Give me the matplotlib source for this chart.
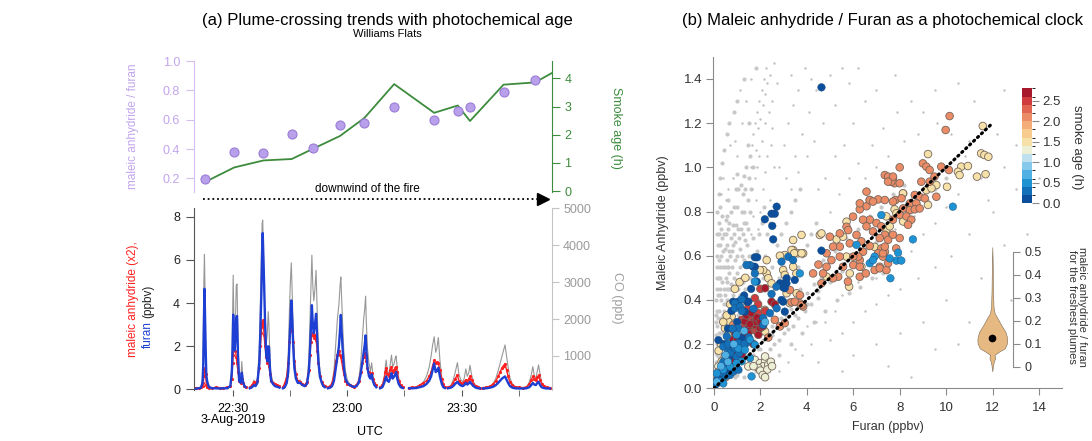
import numpy as np
import matplotlib
matplotlib.use("Agg")
import matplotlib.pyplot as plt
from matplotlib.colors import ListedColormap, BoundaryNorm
from matplotlib.lines import Line2D

plt.rcParams['font.family'] = ['Liberation Sans', 'DejaVu Sans']
nan = float('nan')

# ---------------- panel (a), top: plume crossings ----------------
crossing_min = [22.6, 30.3, 38.0, 45.4, 51.1, 58.1, 64.5, 72.3, 82.8, 89.0, 92.2, 101.0, 109.3]
ma_furan_ratio = [0.195, 0.377, 0.37, 0.50, 0.41, 0.566, 0.575, 0.684, 0.598, 0.657, 0.689, 0.786, 0.868]
age_min = [22.6, 30.3, 38.0, 45.4, 51.1, 58.1, 64.5, 72.3, 82.8, 89.0, 92.2, 101.0, 109.3, 113.65]
smoke_age_h = [0.32, 0.84, 1.09, 1.14, 1.51, 1.96, 2.60, 3.80, 2.78, 3.04, 2.49, 3.78, 3.86, 4.19]

# ---------------- panel (a), bottom: time series (minutes after 22:00 UTC) ----------------
t_min = [19.5, 20.3, 21.0, 21.6, 22.0, 22.2, 22.35, 22.5, 22.65, 22.8, 23.0, 23.3, 23.7, 24.5, 25.5, 26.5, 27.5, 28.5, 29.3, 29.7,
         29.9, 30.05, 30.25, 30.45, 30.65, 30.85, 31.05, 31.3, 31.6, 32.0, 32.3, 32.6, 33.0, 33.3, nan,
         34.4, 35.0, 35.5, 35.9, 36.4, 36.9, 37.2, 37.45, 37.65, 37.8, 37.95, 38.15, 38.4, 38.7, 39.0, 39.25, 39.45, 39.7, 40.0, 40.5,
         41.0, 41.6, 42.2, nan,
         43.1, 43.6, 44.1, 44.5, 44.8, 45.05, 45.3, 45.55, 45.8, 46.1, 46.5, 47.0, 47.6, 48.2, 48.8, 49.4, 49.9, 50.2, 50.45, 50.7,
         50.95, 51.2, 51.5, 51.8, 52.1, 52.4, 52.8, 53.3, 53.7, 54.1, nan,
         54.9, 55.5, 56.0, 56.5, 57.0, 57.4, 57.8, 58.1, 58.3, 58.5, 58.8, 59.1, 59.5, 60.0, 60.6, 61.2, 61.8, 62.4, 63.0, 63.5,
         63.9, 64.3, 64.6, 64.8, 65.0, 65.3, 65.7, 66.1, 66.4, 66.7, 67.1, 67.6, nan,
         68.6, 69.2, 69.7, 70.0, 70.2, 70.5, 70.9, 71.3, 71.6, 71.9, 72.3, 72.6, 72.8, 73.1, 73.5, 74.0, 74.6, nan,
         76.2, 77.0, 78.0, 79.0, 80.0, 80.8, 81.5, 82.0, 82.4, 82.8, 83.2, 83.5, 83.9, 84.3, 84.8, 85.2, 85.6, nan,
         86.4, 87.2, 87.8, 88.3, 88.9, 89.3, 89.8, 90.3, 90.7, 91.1, 91.5, 91.9, 92.2, 92.6, 93.1, 93.7, 94.3, 94.8, nan,
         95.6, 96.5, 97.5, 98.3, 99.0, 99.6, 100.1, 100.6, 101.0, 101.4, 101.8, 102.2, 102.7, 103.3, 104.0, 105.0, 106.0, 107.0, 107.8, 108.3,
         108.7, 109.1, 109.5, 109.8, 110.2, 110.6, 111.0, 111.6, 112.3, 113.2]
co_ppb = [120, 120, 130, 150, 400, 1600, 3000, 3750, 2800, 1500, 600, 300, 180, 140, 150, 130, 130, 140, 200, 800,
          2200, 3190, 1800, 1500, 2000, 2900, 2950, 1500, 400, 300, 850, 400, 200, 150, nan,
          130, 200, 350, 250, 400, 1200, 2500, 3800, 4600, 4680, 3900, 3000, 2000, 1300, 1600, 2200, 1790, 900, 500, 300,
          250, 200, 160, nan,
          150, 200, 450, 1000, 2200, 3000, 3523, 2700, 1800, 1000, 500, 300, 350, 250, 200, 300, 900, 2000, 3000, 3730,
          2900, 2500, 2800, 3320, 2200, 1200, 600, 300, 200, 150, nan,
          130, 150, 250, 600, 1400, 2000, 2400, 2900, 3140, 2600, 1800, 1100, 600, 350, 250, 200, 180, 200, 350, 800,
          1400, 2000, 2300, 2620, 1900, 1200, 800, 600, 817, 500, 300, 200, nan,
          150, 200, 450, 700, 891, 600, 500, 800, 1027, 700, 800, 950, 1000, 700, 400, 200, 150, nan,
          130, 140, 150, 200, 300, 450, 700, 1000, 1300, 1522, 1100, 1200, 1500, 900, 400, 200, 150, nan,
          150, 200, 350, 550, 820, 500, 350, 300, 400, 650, 450, 550, 750, 500, 300, 200, 150, 130, nan,
          130, 140, 170, 250, 400, 600, 800, 1000, 1150, 1300, 1000, 700, 400, 250, 180, 150, 140, 150, 300, 500,
          710, 450, 400, 550, 760, 500, 300, 180, 140, 130]
furan_ppbv = [0.02, 0.03, 0.05, 0.08, 0.3, 1.2, 3.0, 4.66, 3.5, 2.0, 0.6, 0.3, 0.1, 0.05, 0.05, 0.04, 0.05, 0.05, 0.15, 0.8,
              2.0, 3.46, 2.2, 1.8, 2.4, 3.3, 3.4, 1.6, 0.4, 0.3, 0.77, 0.35, 0.15, 0.1, nan,
              0.05, 0.1, 0.2, 0.15, 0.3, 1.2, 2.8, 4.5, 6.3, 7.24, 6.3, 5.0, 3.2, 1.6, 1.3, 2.0, 1.96, 0.9, 0.4, 0.25,
              0.15, 0.12, 0.08, nan,
              0.05, 0.1, 0.3, 0.8, 2.0, 3.1, 4.12, 3.2, 2.0, 1.0, 0.5, 0.3, 0.3, 0.2, 0.15, 0.25, 0.8, 1.8, 2.9, 3.9,
              3.0, 2.6, 3.0, 3.5, 2.4, 1.3, 0.6, 0.3, 0.15, 0.1, nan,
              0.05, 0.08, 0.15, 0.4, 1.0, 1.5, 2.0, 2.8, 3.45, 2.7, 1.8, 1.0, 0.5, 0.3, 0.2, 0.15, 0.1, 0.15, 0.3, 0.7,
              1.2, 1.7, 2.1, 2.5, 1.8, 1.0, 0.6, 0.5, 0.7, 0.4, 0.2, 0.1, nan,
              0.05, 0.1, 0.3, 0.5, 0.6, 0.4, 0.35, 0.55, 0.75, 0.5, 0.6, 0.7, 0.8, 0.5, 0.25, 0.1, 0.06, nan,
              0.05, 0.05, 0.06, 0.1, 0.15, 0.25, 0.4, 0.6, 0.9, 1.2, 0.8, 0.85, 1.0, 0.6, 0.25, 0.1, 0.06, nan,
              0.05, 0.08, 0.15, 0.25, 0.35, 0.25, 0.18, 0.15, 0.2, 0.3, 0.22, 0.28, 0.35, 0.25, 0.15, 0.08, 0.05, 0.05, nan,
              0.04, 0.05, 0.08, 0.12, 0.2, 0.3, 0.4, 0.5, 0.55, 0.6, 0.45, 0.3, 0.15, 0.08, 0.05, 0.04, 0.04, 0.05, 0.1, 0.2,
              0.3, 0.22, 0.2, 0.28, 0.35, 0.2, 0.1, 0.06, 0.04, 0.04]
ma_x2_ppbv = [0.05, 0.08, 0.06, 0.1, 0.15, 0.3, 0.6, 0.9, 1.0, 0.7, 0.2, 0.1, 0.08, 0.06, 0.1, 0.08, 0.07, 0.1, 0.15, 0.5,
              1.2, 1.6, 2.0, 2.3, 1.8, 1.5, 1.2, 0.8, 0.4, 0.3, 0.5, 0.3, 0.15, 0.1, nan,
              0.1, 0.2, 0.35, 0.3, 0.4, 1.0, 2.0, 2.6, 3.1, 2.9, 3.2, 2.5, 2.0, 1.5, 1.2, 1.6, 1.1, 0.7, 0.4, 0.3,
              0.25, 0.2, 0.15, nan,
              0.1, 0.3, 0.6, 1.2, 2.2, 2.8, 3.0, 2.7, 2.2, 1.3, 0.7, 0.4, 0.35, 0.25, 0.2, 0.35, 0.9, 1.6, 2.2, 2.5,
              2.6, 2.4, 2.5, 2.3, 1.8, 1.2, 0.6, 0.35, 0.2, 0.15, nan,
              0.1, 0.15, 0.3, 0.7, 1.3, 1.6, 1.8, 1.6, 1.5, 1.3, 1.0, 0.7, 0.4, 0.25, 0.2, 0.15, 0.12, 0.2, 0.4, 0.8,
              1.2, 1.5, 1.7, 1.6, 1.3, 1.0, 0.8, 0.7, 0.75, 0.5, 0.3, 0.2, nan,
              0.1, 0.2, 0.5, 0.8, 1.0, 0.7, 0.6, 0.9, 1.05, 0.8, 0.9, 1.0, 1.05, 0.8, 0.4, 0.2, 0.1, nan,
              0.08, 0.1, 0.1, 0.2, 0.3, 0.4, 0.6, 0.8, 1.1, 1.34, 1.2, 1.25, 1.2, 0.9, 0.5, 0.25, 0.12, nan,
              0.1, 0.15, 0.3, 0.5, 0.65, 0.4, 0.3, 0.25, 0.35, 0.45, 0.35, 0.5, 0.6, 0.45, 0.25, 0.15, 0.1, 0.08, nan,
              0.08, 0.1, 0.15, 0.25, 0.4, 0.6, 0.8, 1.0, 1.1, 1.19, 0.9, 0.6, 0.35, 0.2, 0.12, 0.1, 0.08, 0.1, 0.25, 0.45,
              0.6, 0.5, 0.45, 0.55, 0.65, 0.45, 0.25, 0.15, 0.1, 0.08]
time_ticks = [30, 60, 90]
time_tick_labels = ['22:30\n3-Aug-2019', '23:00', '23:30']
time_minor_ticks = [45, 75, 105]

# ---------------- panel (b): all data (gray) ----------------
gray_core = [(0.05,0.02),(0.1,0.05),(0.1,0.12),(0.12,0.2),(0.15,0.28),(0.15,0.35),(0.18,0.42),(0.2,0.5),(0.22,0.58),(0.25,0.65),
             (0.3,0.72),(0.35,0.78),(0.2,0.1),(0.25,0.18),(0.28,0.25),(0.3,0.32),(0.32,0.4),(0.35,0.48),(0.38,0.55),(0.4,0.62),
             (0.45,0.7),(0.5,0.76),(0.3,0.05),(0.35,0.12),(0.4,0.2),(0.42,0.28),(0.45,0.35),(0.48,0.42),(0.5,0.5),(0.55,0.58),
             (0.58,0.65),(0.6,0.72),(0.45,0.08),(0.5,0.15),(0.55,0.22),(0.58,0.3),(0.6,0.38),(0.62,0.45),(0.65,0.52),(0.7,0.6),
             (0.72,0.68),(0.75,0.8),(0.08,0.3),(0.1,0.4),(0.12,0.5),(0.15,0.6),(0.2,0.7),(0.25,0.45),(0.28,0.55),(0.22,0.35),
             (0.15,0.15),(0.2,0.25),(0.35,0.2),(0.38,0.3),(0.42,0.38),(0.52,0.32),(0.55,0.4),(0.58,0.48),(0.62,0.55),(0.68,0.4)]
gray_core2 = [(0.05,0.08),(0.07,0.16),(0.08,0.24),(0.1,0.33),(0.12,0.45),(0.14,0.55),(0.17,0.65),(0.2,0.75),(0.25,0.82),(0.3,0.6),
              (0.33,0.68),(0.27,0.5),(0.24,0.42),(0.18,0.32),(0.16,0.22),(0.23,0.14),(0.26,0.08),(0.33,0.15),(0.37,0.25),(0.4,0.33),
              (0.43,0.45),(0.46,0.55),(0.49,0.63),(0.52,0.7),(0.56,0.78),(0.62,0.85),(0.66,0.75),(0.64,0.62),(0.6,0.55),(0.57,0.45),
              (0.53,0.38),(0.5,0.27),(0.47,0.18),(0.42,0.1),(0.38,0.04),(0.55,0.05),(0.6,0.12),(0.63,0.2),(0.66,0.3),(0.7,0.36),
              (0.73,0.47),(0.76,0.55),(0.8,0.65),(0.84,0.74),(0.88,0.82),(0.93,0.9),(0.98,0.97),(1.02,0.72),(0.98,0.52),(0.93,0.4),
              (0.88,0.3),(0.83,0.22),(0.78,0.15),(0.72,0.08),(0.9,0.05),(0.95,0.15),(1.0,0.25),(1.05,0.33),(1.1,0.42),(1.15,0.5),
              (1.2,0.6),(1.25,0.7),(1.3,0.8),(1.35,0.9),(1.4,1.0),(1.45,1.1),(1.5,1.2),(1.55,0.8),(1.6,0.9),(1.7,1.0),
              (1.38,0.55),(1.42,0.65),(1.48,0.72),(1.55,0.5),(1.6,0.6),(1.7,0.68),(1.1,0.08),(1.15,0.15),(1.2,0.22),(1.25,0.3),
              (1.3,0.38),(1.35,0.45),(1.4,0.15),(1.45,0.25),(1.5,0.32),(1.55,0.4),(1.65,0.45),(1.75,0.55),(1.85,0.62),(1.95,0.7),
              (2.05,0.75),(2.15,0.82),(1.8,0.3),(1.9,0.4),(2.0,0.45),(2.1,0.5),(2.2,0.6),(2.3,0.7),(2.4,0.75),(0.12,0.7),
              (0.15,0.8),(0.2,0.88),(0.28,0.95),(0.35,1.02),(0.45,1.08),(0.55,1.15),(0.65,1.2),(0.85,1.25),(1.0,1.3),(1.3,1.4),
              (1.8,1.45)]
gray_mid = [(0.6,0.05),(0.65,0.12),(0.7,0.2),(0.75,0.28),(0.8,0.35),(0.82,0.42),(0.85,0.5),(0.9,0.58),(0.92,0.66),(0.95,0.74),
            (1.0,0.82),(1.05,0.9),(0.8,0.08),(0.85,0.15),(0.9,0.22),(0.95,0.3),(1.0,0.38),(1.05,0.45),(1.1,0.55),(1.12,0.63),
            (1.15,0.72),(1.2,0.8),(1.25,0.88),(1.3,0.96),(1.0,0.1),(1.05,0.18),(1.1,0.25),(1.15,0.32),(1.2,0.4),(1.25,0.48),
            (1.3,0.58),(1.35,0.67),(1.4,0.75),(1.45,0.85),(1.5,0.95),(1.55,1.05),(1.2,0.12),(1.3,0.2),(1.35,0.3),(1.4,0.4),
            (1.45,0.5),(1.5,0.6),(0.78,0.62),(0.88,0.7),(0.98,0.6),(1.08,0.68),(1.18,0.92),(1.28,0.75),(0.7,0.45),(0.9,0.45)]
gray_streak = [(1.6,1.0),(1.65,1.1),(1.7,1.15),(1.75,1.2),(1.8,1.08),(1.85,1.25),(1.9,1.18),(1.95,1.3),(2.0,1.22),(2.05,1.35),
               (2.1,1.28),(2.15,1.4),(2.2,1.33),(2.25,1.45),(2.3,1.38),(2.4,1.42),(2.5,1.3),(2.6,1.47),(1.65,0.9),(1.75,0.95),
               (1.85,1.0),(1.95,1.05),(2.05,1.12),(2.2,1.2),(2.35,1.25),(2.5,1.18),(1.6,0.7),(1.7,0.78),(1.8,0.85),(1.9,0.72),
               (2.0,0.8),(2.1,0.9),(2.2,0.98),(2.3,1.05),(2.45,1.1),(1.0,1.05),(0.8,0.95),(0.6,0.9),(0.5,0.85),(0.9,1.12),
               (1.2,1.2),(1.4,1.3),(0.7,1.1),(0.4,0.95),(0.3,0.88),(1.1,1.35),(1.6,1.4),(2.7,1.38),(2.4,0.85),(2.6,1.0)]
gray_band = [(1.5,0.1),(1.7,0.15),(1.9,0.18),(2.1,0.22),(2.3,0.25),(2.5,0.28),(2.7,0.3),(2.9,0.32),(3.1,0.33),(3.3,0.36),
             (3.5,0.38),(3.8,0.42),(4.0,0.43),(4.3,0.47),(4.6,0.5),(1.6,0.05),(1.8,0.08),(2.0,0.12),(2.2,0.14),(2.4,0.18),
             (2.6,0.2),(2.8,0.22),(3.0,0.25),(3.2,0.27),(3.4,0.28),(3.6,0.32),(3.9,0.35),(4.2,0.38),(4.5,0.41),(2.0,0.3),
             (2.2,0.35),(2.4,0.4),(2.6,0.45),(2.8,0.5),(3.0,0.55),(3.2,0.6),(2.5,0.55),(2.7,0.65),(2.9,0.7),(3.1,0.75),
             (3.3,0.8),(3.5,0.85),(3.7,0.9),(3.4,0.5),(3.6,0.55),(3.8,0.6),(4.0,0.65),(4.2,0.7),(4.4,0.75),(1.3,0.05)]
gray_line = [(1.0,0.06),(1.5,0.13),(2.0,0.18),(2.5,0.24),(3.0,0.3),(3.5,0.33),(4.0,0.38),(4.5,0.44),(5.0,0.48),(5.5,0.53),
             (6.0,0.57),(6.5,0.63),(7.0,0.66),(7.5,0.7),(8.0,0.76),(8.5,0.8),(9.0,0.86),(9.5,0.9),(10.0,0.95),(1.2,0.16),
             (1.7,0.22),(2.2,0.28),(2.7,0.36),(3.2,0.4),(3.7,0.45),(4.2,0.52),(4.7,0.58),(5.2,0.62),(5.7,0.68),(6.2,0.72),
             (6.7,0.78),(7.2,0.82),(7.7,0.88),(8.2,0.92),(2.3,0.1),(2.8,0.15),(3.3,0.2),(3.8,0.25),(4.3,0.3),(4.8,0.35),
             (5.3,0.4),(5.8,0.43),(6.3,0.46),(6.8,0.5),(7.3,0.52),(7.8,0.58)]
gray_cloud = [(2.8,1.0),(3.0,1.1),(3.2,1.2),(3.4,1.28),(3.6,1.35),(3.9,1.45),(3.1,0.95),(3.5,1.05),(3.8,1.15),(4.1,1.25),
              (4.4,1.35),(5.0,1.42),(3.3,0.9),(3.6,0.98),(4.0,1.05),(4.3,1.12),(4.7,1.2),(5.2,1.28),(5.8,1.38),(6.2,1.45),
              (4.5,0.9),(4.8,0.95),(5.2,1.05),(5.6,1.1),(6.0,1.2),(6.5,1.3),(7.0,1.35),(5.0,0.8),(5.4,0.88),(5.8,0.95),
              (6.2,1.02),(6.8,1.1),(7.3,1.18),(7.9,1.25),(8.5,1.3),(9.0,1.25),(9.5,1.35),(10.5,1.38),(11.2,1.3),(12.5,1.35),
              (6.5,0.95),(7.0,1.0),(7.5,1.05),(8.2,1.12),(8.8,1.15),(9.6,1.2),(10.2,1.15),(11.0,1.12),(12.2,1.15),(13.0,1.1),
              (13.5,1.22),(5.5,1.45),(7.8,1.42),(4.2,1.4),(3.3,1.42)]
gray_below = [(4.2,0.2),(4.8,0.3),(5.2,0.35),(5.5,0.42),(5.8,0.45),(6.2,0.48),(6.5,0.52),(7.0,0.5),(7.5,0.55),(8.0,0.6),
              (8.5,0.62),(9.0,0.7),(9.5,0.75),(10.0,0.82),(10.5,0.88),(5.0,0.22),(5.5,0.25),(6.0,0.3),(6.5,0.35),(7.0,0.38),
              (7.5,0.42),(8.0,0.45),(8.8,0.5),(9.5,0.55),(10.2,0.6),(11.0,0.7),(12.0,0.8),(6.0,0.15),(7.0,0.2),(8.0,0.25),
              (9.0,0.3),(10.0,0.4),(11.5,0.5),(12.5,0.65),(13.0,0.9),(3.8,0.15),(4.5,0.12),(5.5,0.08),(7.5,0.1),(9.5,0.18),
              (11.0,0.3),(13.5,0.7),(12.0,0.25),(14.0,0.95),(4.0,0.28),(4.4,0.3),(3.2,0.12),(2.8,0.08),(3.5,0.18),(10.5,0.2),
              (8.5,0.05),(12.8,0.4),(5.6,0.6),(6.8,0.65),(7.8,0.72),(8.6,0.78),(9.2,0.85),(11.5,0.95),(12.5,1.0),(10.8,1.05),
              (11.8,0.85)]

# ---------------- panel (b): plume-crossing points by smoke age ----------------
age_darkblue = 0.1
pts_darkblue = [(4.63,1.362),(2.70,0.822),(2.48,0.79),(2.62,0.79),(2.19,0.765),(2.51,0.735),(2.55,0.674),(4.63,0.623),
                (1.76,0.593),(1.86,0.593),(1.76,0.55),(1.84,0.483),(3.13,0.498),(3.01,0.475),(2.98,0.457),(2.98,0.392),
                (1.05,0.392),(1.43,0.392),(3.05,0.347),(3.48,0.49),(3.12,0.475),(2.84,0.475),(3.05,0.453),(0.83,0.392),
                (1.48,0.392),(2.91,0.40),(1.33,0.347),(1.19,0.227),(0.19,0.218),(0.76,0.197),(0.55,0.075),(0.04,0.022),
                (0.02,0.01),(1.69,0.55),(0.15,0.04),(0.35,0.1),(0.65,0.14),(1.0,0.3),(0.6,0.27),(0.75,0.35),(1.3,0.42),
                (1.6,0.45),(0.45,0.2)]
age_blue = 0.3
pts_blue = [(1.55,0.558),(1.19,0.403),(0.9,0.385),(0.90,0.362),(1.12,0.37),(2.48,0.427),(2.70,0.362),(2.91,0.573),
            (3.2,0.595),(3.41,0.58),(2.69,0.46),(1.40,0.558),(1.76,0.52),(2.12,0.318),(2.41,0.34),(2.12,0.287),
            (1.05,0.272),(0.55,0.235),(0.4,0.189),(1.05,0.205),(1.40,0.205),(0.62,0.167),(0.97,0.144),(0.19,0.045),
            (0.33,0.06),(0.47,0.053),(0.69,0.06),(0.83,0.075),(1.05,0.084),(0.1,0.02),(0.2,0.04),(0.3,0.03),(0.5,0.1),
            (0.7,0.16),(0.9,0.18),(1.1,0.16),(1.3,0.2),(0.6,0.2),(0.8,0.27),(0.4,0.12),(0.25,0.07),(1.5,0.23),
            (1.7,0.36),(1.2,0.35)]
age_midblue = 0.5
pts_midblue = [(10.29,0.822),(8.57,0.674),(7.6,0.498),(7.86,0.578),(8.07,0.578),(7.57,0.588),(7.93,0.614),(6.71,0.566),
               (6.92,0.596),(6.85,0.58),(7.21,0.784),(6.14,0.649),(1.76,0.483),(0.97,0.242),(1.55,0.22),(1.76,0.197),
               (1.05,0.18),(1.33,0.174),(1.19,0.122),(0.69,0.099),(0.97,0.114),(1.55,0.137),(0.4,0.084),(0.26,0.03),
               (0.4,0.022),(0.12,0.068),(1.62,0.054),(3.7,0.52)]
age_lightblue = 0.7
pts_lightblue = [(0.12,0.03),(0.3,0.1),(0.6,0.12),(0.85,0.2),(1.3,0.26),(0.5,0.15),(2.2,0.3)]
age_paleyellow = 1.3
pts_paleyellow = [(1.48,0.099),(1.76,0.129),(1.98,0.114),(2.2,0.122),(2.12,0.099),(2.34,0.107),(1.91,0.092),(2.2,0.144),
                  (2.0,0.08),(2.3,0.085),(2.45,0.12),(2.1,0.06),(1.7,0.1),(0.19,0.099),(2.5,0.1),(2.2,0.05)]
age_tan = 1.5
pts_tan = [(2.27,0.58),(3.41,0.55),(2.98,0.535),(3.05,0.513),(3.55,0.52),(11.58,1.187),(11.51,1.063),(11.65,1.056),
           (11.82,1.048),(9.22,1.06),(10.65,1.003),(10.94,1.006),(10.51,0.98),(10.58,0.965),(11.33,0.958),(11.7,0.969),
           (10.04,0.912),(9.58,0.92),(9.15,0.897),(9.37,0.905),(8.15,0.882),(9.22,0.83),(7.78,0.81),(8.15,0.755),
           (7.43,0.778),(7.43,0.718),(7.57,0.733),(6.92,0.64),(6.35,0.55),(5.28,0.674),(5.71,0.596),(4.85,0.505),
           (5.82,0.46),(5.85,0.52),(5.56,0.686),(5.71,0.754),(8.14,0.882),(7.86,0.792),(3.77,0.694),(3.41,0.671),
           (3.41,0.626),(3.84,0.611),(3.63,0.611),(4.56,0.694),(3.56,0.43),(3.13,0.43),(4.63,0.701),(3.34,0.626),
           (3.46,0.611),(3.77,0.611),(3.05,0.603),(2.84,0.6),(2.27,0.52),(2.12,0.535),(1.98,0.535),(2.34,0.498),
           (2.48,0.475),(3.27,0.385),(2.19,0.355),(0.76,0.325),(0.62,0.302),(0.47,0.272),(0.62,0.242),(0.47,0.144),
           (0.33,0.122),(2.2,0.257),(0.19,0.075),(0.3,0.2),(0.4,0.3),(0.55,0.33),(0.7,0.38),(1.1,0.48),(0.9,0.45),
           (0.2,0.17),(1.35,0.5),(0.5,0.05)]
age_orange = 2.05
pts_orange = [(9.98,1.169),(10.15,1.232),(8.0,1.0),(9.0,1.018),(9.15,1.003),(9.29,0.988),(9.79,1.003),(10.12,0.988),
              (7.36,0.965),(7.5,0.958),(7.71,0.95),(7.78,0.928),(8.0,0.928),(7.64,0.935),(8.93,0.935),(9.29,0.935),
              (9.5,0.958),(8.65,0.875),(8.86,0.867),(9.08,0.86),(7.82,0.852),(8.08,0.86),(8.44,0.837),(8.72,0.837),
              (9.58,0.867),(6.71,0.852),(7.07,0.855),(7.36,0.852),(6.57,0.824),(6.28,0.81),(8.15,0.814),(8.44,0.807),
              (8.65,0.81),(8.86,0.814),(8.0,0.785),(8.29,0.778),(8.5,0.763),(8.36,0.74),(7.71,0.763),(6.71,0.763),
              (7.0,0.748),(7.21,0.733),(6.42,0.763),(6.57,0.733),(6.85,0.71),(7.36,0.695),(7.5,0.672),(7.14,0.68),
              (7.71,0.695),(8.0,0.68),(6.35,0.665),(6.71,0.644),(7.21,0.633),(7.36,0.618),(7.07,0.611),(7.85,0.633),
              (6.28,0.58),(6.42,0.618),(7.14,0.55),(7.28,0.596),(3.70,0.385),(3.84,0.37),(3.34,0.39),(3.27,0.445),
              (4.27,0.52),(4.63,0.475),(4.70,0.52),(4.85,0.55),(5.06,0.58),(4.99,0.686),(5.42,0.641),(5.13,0.641),
              (4.85,0.611),(5.42,0.596),(5.56,0.55),(5.35,0.505),(5.13,0.498),(5.77,0.483),(6.0,0.558),(6.28,0.55),
              (6.28,0.505),(6.54,0.52),(6.92,0.535),(7.14,0.543),(7.43,0.535),(7.5,0.566),(7.28,0.611),(7.36,0.641),
              (6.21,0.596),(6.0,0.596),(5.42,0.701),(5.71,0.731),(5.85,0.656),(6.14,0.694),(5.99,0.777),(6.28,0.837),
              (6.57,0.89),(6.71,0.852),(6.85,0.845),(7.71,0.958),(7.5,0.935),(7.71,0.845),(5.78,0.716),(3.48,0.392),
              (3.7,0.422),(3.77,0.377),(2.62,0.31),(2.84,0.28),(3.05,0.295),(2.34,0.23),(0.83,0.287),(0.83,0.265),
              (4.5,0.56)]
age_red = 2.5
pts_red = [(1.76,0.408),(1.62,0.31),(1.91,0.34),(1.62,0.265),(1.84,0.257),(1.19,0.31),(1.33,0.287),(2.0,0.45),
           (2.2,0.35),(1.9,0.38),(1.2,0.2),(1.45,0.36)]
age_darkred = 2.7
pts_darkred = [(2.2,0.453),(2.48,0.392),(2.62,0.38),(1.76,0.287),(1.98,0.272),(1.48,0.25),(1.91,0.242),(0.83,0.22),
               (0.83,0.159),(1.19,0.151),(0.69,0.129),(1.33,0.302),(1.5,0.28),(1.7,0.3),(2.1,0.28),(1.0,0.18),(0.9,0.12),
               (1.4,0.33),(1.6,0.34),(1.8,0.3),(1.55,0.29),(1.85,0.32),(2.0,0.3),(1.3,0.24),(0.9,0.25),(1.0,0.22),
               (1.7,0.2),(1.1,0.2)]

fit_furan = [0.0, 12.0]
fit_ma = [0.0, 1.2]

age_bounds = [0.0, 0.2, 0.4, 0.6, 0.8, 1.0, 1.2, 1.4, 1.6, 1.8, 2.0, 2.2, 2.4, 2.6, 2.8]
age_colors = ['#0b4f9c', '#1470b8', '#1f92d2', '#4fb0e3', '#86c9ea', '#bfe0ee', '#eef0d6',
              '#f6e2a8', '#f8cc8e', '#f4ac78', '#ec8c66', '#e06652', '#d03c3e', '#a8182c']
cbar_ticks = [0.0, 0.5, 1.0, 1.5, 2.0, 2.5]

# violin: MA/furan ratio for the freshest plumes (relative density profile)
violin_ratio = [0.52, 0.47, 0.41, 0.333, 0.26, 0.232, 0.203, 0.181, 0.167, 0.152, 0.130, 0.115, 0.101,
                0.080, 0.065, 0.051, 0.043, 0.036, 0.022, 0.005, -0.02]
violin_density = [0.0, 0.02, 0.035, 0.05, 0.08, 0.16, 0.42, 0.6, 0.74, 0.88, 0.98, 1.0, 0.98,
                  0.84, 0.44, 0.14, 0.18, 0.19, 0.1, 0.05, 0.0]
violin_median = 0.124
violin_ticks = [0, 0.1, 0.2, 0.3, 0.4, 0.5]
violin_tick_labels = ['0', '0.1', '0.2', '0.3', '0.4', '0.5']

# ======================= drawing =======================
W, H = 1092, 441
fig = plt.figure(figsize=(W / 100, H / 100), dpi=100)

def box(x0, y0, x1, y1):
    return [x0 / W, 1 - y1 / H, (x1 - x0) / W, (y1 - y0) / H]

PURPLE = '#c2a5ee'
GREEN = '#3d8b3d'

# ---- (a) top ----
ax_top = fig.add_axes(box(194, 61, 552, 191.7))
ax_age = ax_top.twinx()
ax_top.set_zorder(ax_age.get_zorder() + 1)
ax_top.patch.set_visible(False)
ax_age.plot(age_min, smoke_age_h, color=GREEN, lw=1.3)
ax_top.plot(crossing_min, ma_furan_ratio, 'o', ms=6.5, mfc='#b9a0ea', mec='#9a7cd6', mew=0.8)
ax_top.set_xlim(19.76, 113.73)
ax_top.set_ylim(0.109, 1.0)
ax_age.set_ylim(-0.02, 4.62)
for s in ['top', 'bottom', 'right']:
    ax_top.spines[s].set_visible(False)
for s in ['top', 'bottom', 'left']:
    ax_age.spines[s].set_visible(False)
ax_top.spines['left'].set_color('#d4bef2')
ax_age.spines['right'].set_color(GREEN)
ax_top.tick_params(axis='x', bottom=False, labelbottom=False)
ax_top.set_yticks([0.2, 0.4, 0.6, 0.8, 1.0])
ax_top.tick_params(axis='y', colors='#d4bef2', labelcolor=PURPLE, length=6, pad=4, labelsize=9)
ax_age.set_yticks([0, 1, 2, 3, 4])
ax_age.tick_params(axis='y', colors=GREEN, labelcolor=GREEN, length=6, pad=3, labelsize=9)
fig.text(133 / W, 1 - 126 / H, 'maleic anhydride / furan', rotation=90, ha='center', va='center',
         color=PURPLE, fontsize=8.5)
fig.text(616 / W, 1 - 128 / H, 'Smoke age (h)', rotation=270, ha='center', va='center',
         color=GREEN, fontsize=9)

# ---- (a) bottom ----
ax_bot = fig.add_axes(box(194, 208.3, 552, 390))
ax_co = ax_bot.twinx()
ax_bot.set_zorder(ax_co.get_zorder() + 1)
ax_bot.patch.set_visible(False)
ax_co.plot(t_min, co_ppb, color='#8c8c8c', lw=0.8, alpha=0.9)
ax_bot.plot(t_min, ma_x2_ppbv, color='#ff2020', lw=1.0, marker='o', ms=2.3, mec='none')
ax_bot.plot(t_min, furan_ppbv, color='#1d3fd4', lw=1.7)
ax_bot.set_xlim(19.76, 113.73)
ax_bot.set_ylim(-0.03, 8.39)
ax_co.set_ylim(79, 5000)
for s in ['top', 'bottom', 'right']:
    ax_bot.spines[s].set_visible(False)
for s in ['top', 'bottom', 'left']:
    ax_co.spines[s].set_visible(False)
ax_bot.spines['left'].set_color('#555555')
ax_co.spines['right'].set_color('#c4c4c4')
ax_bot.set_yticks([0, 2, 4, 6, 8])
ax_bot.tick_params(axis='y', colors='#555555', labelcolor='#222222', length=6, pad=4, labelsize=9)
ax_co.set_yticks([1000, 2000, 3000, 4000, 5000])
ax_co.tick_params(axis='y', colors='#c4c4c4', labelcolor='#9a9a9a', length=5, pad=3, labelsize=9)
ax_bot.set_xticks(time_ticks, time_tick_labels)
ax_bot.set_xticks(time_minor_ticks, minor=True)
ax_bot.tick_params(axis='x', which='both', length=4, color='#555555', pad=5, labelsize=9)
for lab in ax_bot.get_xticklabels():
    lab.set_linespacing(1.0)
fig.text(370 / W, 1 - 432 / H, 'UTC', ha='center', va='center', fontsize=9)
fig.text(133 / W, 1 - 299 / H, 'maleic anhydride (x2),', rotation=90, ha='center', va='center',
         color='#ff2020', fontsize=8.5)
fig.text(148 / W, 1 - 348 / H, 'furan', rotation=90, ha='center', va='bottom',
         color='#1d3fd4', fontsize=8.5)
fig.text(148 / W, 1 - 318 / H, '(ppbv)', rotation=90, ha='center', va='bottom',
         color='#222222', fontsize=8.5)
fig.text(617 / W, 1 - 298 / H, 'CO (ppb)', rotation=270, ha='center', va='center',
         color='#a0a0a0', fontsize=9)

# arrow between panels
ya = 1 - 199 / H
fig.add_artist(Line2D([203 / W, 540 / W], [ya, ya], transform=fig.transFigure, color='k',
                      lw=1.3, ls=(0, (1, 1.6))))
fig.add_artist(Line2D([543 / W], [ya], transform=fig.transFigure, color='k', marker='>',
                      ms=8, ls='none'))
fig.text(367 / W, 1 - 189 / H, 'downwind of the fire', ha='center', va='center', fontsize=8.5)

# titles
fig.text(387 / W, 1 - 20 / H, '(a) Plume-crossing trends with photochemical age', ha='center',
         va='center', fontsize=12)
fig.text(387 / W, 1 - 34 / H, 'Williams Flats', ha='center', va='center', fontsize=8)
fig.text(883 / W, 1 - 20 / H, '(b) Maleic anhydride / Furan as a photochemical clock', ha='center',
         va='center', fontsize=12)

# ---- (b) scatter ----
ax_b = fig.add_axes(box(713.3, 57.3, 1061.7, 388.3))
dense = gray_core + gray_core2 + gray_mid + gray_band + gray_line
sparse = gray_streak + gray_cloud + gray_below
dx, dy = zip(*dense)
sx, sy = zip(*sparse)
ax_b.scatter(dx, dy, s=9, color='#c8c8c8', linewidths=0, zorder=1)
ax_b.scatter(sx, sy, s=3, color='#c0c0c0', linewidths=0, zorder=1)

groups = [(pts_darkblue, age_darkblue), (pts_blue, age_blue), (pts_midblue, age_midblue),
          (pts_lightblue, age_lightblue), (pts_paleyellow, age_paleyellow), (pts_tan, age_tan),
          (pts_orange, age_orange), (pts_red, age_red), (pts_darkred, age_darkred)]
cmap = ListedColormap(age_colors)
norm = BoundaryNorm(age_bounds, cmap.N)
cx, cy, ca = [], [], []
for pts, a in groups:
    for (x, y) in pts:
        cx.append(x); cy.append(y); ca.append(a)
cx, cy, ca = np.array(cx), np.array(cy), np.array(ca)
cool = ca < 1.0
ax_b.scatter(cx[~cool], cy[~cool], c=ca[~cool], cmap=cmap, norm=norm, s=30,
             edgecolors='#76665c', linewidths=0.6, zorder=2)
ax_b.scatter(cx[cool], cy[cool], c=ca[cool], cmap=cmap, norm=norm, s=30,
             edgecolors='#1b4a7a', linewidths=0.3, zorder=3)
ax_b.plot(fit_furan, fit_ma, color='k', lw=2.3, ls=(0, (0.4, 1.3)), dash_capstyle='round', zorder=4)
ax_b.set_xlim(-0.03, 14.98)
ax_b.set_ylim(0, 1.498)
for s in ['top', 'right']:
    ax_b.spines[s].set_visible(False)
for s in ['left', 'bottom']:
    ax_b.spines[s].set_color('#8a8a8a')
ax_b.set_xticks([0, 2, 4, 6, 8, 10, 12, 14])
ax_b.set_yticks([0.0, 0.2, 0.4, 0.6, 0.8, 1.0, 1.2, 1.4])
ax_b.yaxis.set_major_formatter(matplotlib.ticker.FormatStrFormatter('%.1f'))
ax_b.tick_params(axis='both', colors='#8a8a8a', labelcolor='#333333', length=5, pad=3, labelsize=9.5)
ax_b.tick_params(axis='x', pad=5)
fig.text(662.7 / W, 1 - 222.7 / H, 'Maleic Anhydride (ppbv)', rotation=90, ha='center', va='center',
         fontsize=9, color='#333333')
fig.text(888 / W, 1 - 426.7 / H, 'Furan (ppbv)', ha='center', va='center', fontsize=9, color='#333333')

# colorbar
cax = fig.add_axes(box(1021.7, 88.3, 1031.7, 203.3))
sm = matplotlib.cm.ScalarMappable(norm=norm, cmap=cmap)
cb = fig.colorbar(sm, cax=cax, ticks=cbar_ticks)
cb.outline.set_visible(False)
cb.ax.yaxis.set_major_formatter(matplotlib.ticker.FormatStrFormatter('%.1f'))
cb.ax.tick_params(length=5, colors='#8a8a8a', labelcolor='#333333', labelsize=9.5, pad=3)
fig.text(1077 / W, 1 - 147 / H, 'smoke age (h)', rotation=270, ha='center', va='center',
         fontsize=9.5, color='#333333')

# violin inset
ax_v = fig.add_axes(box(971.3, 240, 1013.3, 375))
ax_v.patch.set_visible(False)
vw = 0.71
vr = np.array(violin_ratio)
vd = np.array(violin_density) * vw
ax_v.fill_betweenx(vr, -vd, vd, facecolor='#e7b982', edgecolor='#7a6a55', lw=0.4)
ax_v.plot([0], [violin_median], 'o', color='k', ms=4.5)
ax_v.set_xlim(-1, 1)
ax_v.set_ylim(-0.036, 0.551)
for s in ['top', 'left', 'bottom']:
    ax_v.spines[s].set_visible(False)
ax_v.spines['right'].set_bounds(0, 0.5)
ax_v.spines['right'].set_color('#8a8a8a')
ax_v.set_xticks([])
ax_v.yaxis.tick_right()
ax_v.set_yticks(violin_ticks, violin_tick_labels)
ax_v.tick_params(axis='y', length=5, colors='#8a8a8a', labelcolor='#333333', labelsize=9, pad=3)
fig.text(1077 / W, 1 - 307 / H, 'maleic anhydride / furan\nfor the freshest plumes', rotation=270,
         ha='center', va='center', fontsize=8, linespacing=1.0, color='#333333')

fig.savefig('out.png', dpi=100)
